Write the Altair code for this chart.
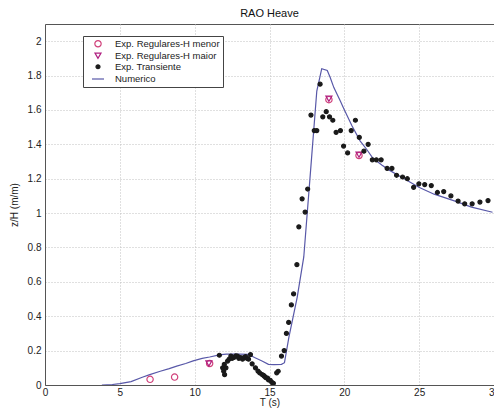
import altair as alt
import pandas as pd

# Numerico (line)
num_T = [3.8, 4.5, 5.0, 5.75, 6.5, 7.0, 7.7, 8.3, 8.8, 9.4, 9.9, 10.5, 11.0, 11.65, 12.1, 13.0, 13.6,
         14.0, 14.5, 14.93, 15.3, 15.8, 16.0, 16.3, 16.85, 17.29, 17.81, 18.16, 18.49, 18.86, 19.05,
         19.3, 19.74, 19.95, 20.5, 21.05, 21.5, 21.9, 22.5, 23.0, 24.0, 24.98, 26.0, 27.4, 28.5, 29.9]
num_y = [0.0, 0.003, 0.008, 0.02, 0.045, 0.06, 0.08, 0.095, 0.11, 0.125, 0.14, 0.155, 0.163, 0.175,
         0.18, 0.18, 0.178, 0.16, 0.14, 0.12, 0.118, 0.12, 0.13, 0.28, 0.51, 0.745, 1.32, 1.71, 1.84,
         1.83, 1.79, 1.73, 1.65, 1.61, 1.51, 1.42, 1.37, 1.32, 1.28, 1.25, 1.2, 1.15, 1.11, 1.07,
         1.035, 1.005]

# Exp. Regulares-H menor (open circles)
menor_T = [7.02, 8.66, 11.0, 18.97, 20.98]
menor_y = [0.033, 0.046, 0.125, 1.66, 1.335]

# Exp. Regulares-H maior (down triangles)
maior_T = [10.95, 18.97, 20.98]
maior_y = [0.125, 1.665, 1.34]

# Exp. Transiente
tr_T = [11.65, 11.87, 11.94, 11.98, 12.0, 12.09, 12.2, 12.3, 12.42, 12.5, 12.63, 12.75, 12.86, 12.95,
        13.07, 13.2, 13.29, 13.4, 13.5, 13.6, 13.73, 13.84, 14.06, 14.23, 14.35, 14.5, 14.6, 14.67,
        14.75, 14.87, 14.93, 15.05, 15.16, 15.26, 15.48, 15.58, 15.8, 15.98, 16.13, 16.28, 16.46,
        16.61, 16.83, 16.96, 17.18, 17.38, 17.55, 17.77, 17.99, 18.16, 18.38, 18.56, 18.79, 19.01,
        19.23, 19.45, 19.74, 19.95, 20.22, 20.46, 20.74, 21.0, 21.31, 21.59, 21.87, 22.14, 22.46,
        22.86, 23.18, 23.49, 23.89, 24.21, 24.63, 24.98, 25.37, 25.81, 26.22, 26.64, 27.12, 27.6,
        28.04, 28.54, 29.06, 29.6]
tr_y = [0.173, 0.10, 0.08, 0.12, 0.06, 0.10, 0.139, 0.15, 0.168, 0.155, 0.16, 0.17, 0.168, 0.155,
        0.16, 0.15, 0.16, 0.165, 0.155, 0.15, 0.177, 0.123, 0.10, 0.081, 0.07, 0.061, 0.056, 0.05,
        0.043, 0.04, 0.03, 0.027, 0.015, 0.01, 0.071, 0.08, 0.168, 0.2, 0.30, 0.364, 0.466,
        0.53, 0.70, 0.92, 1.083, 1.006, 1.14, 1.57, 1.48, 1.48, 1.75, 1.56, 1.59, 1.56,
        1.54, 1.47, 1.48, 1.39, 1.35, 1.48, 1.54, 1.44, 1.36, 1.40, 1.31, 1.31, 1.31,
        1.26, 1.26, 1.22, 1.21, 1.20, 1.15, 1.17, 1.166, 1.16, 1.12, 1.125, 1.10, 1.07,
        1.054, 1.054, 1.064, 1.073]

series = ["Exp. Regulares-H menor", "Exp. Regulares-H maior", "Exp. Transiente", "Numerico"]
colors = ["#d0407a", "#b02080", "#1a1a1a", "#5858a8"]
fills = ["transparent", "transparent", "#1a1a1a", "transparent"]
shapes = ["circle", "triangle-down", "circle", "stroke"]
sizes = [40, 36, 16, 144]

pts = pd.concat([
    pd.DataFrame({"T": menor_T, "y": menor_y, "s": series[0]}),
    pd.DataFrame({"T": maior_T, "y": maior_y, "s": series[1]}),
    pd.DataFrame({"T": tr_T, "y": tr_y, "s": series[2]}),
], ignore_index=True)
line_df = pd.DataFrame({"T": num_T, "y": num_y})

FONT = "Liberation Sans"
xs = alt.Scale(domain=[0, 30], nice=False)
ys = alt.Scale(domain=[0, 2.1], nice=False)
xax = alt.Axis(values=list(range(0, 31, 5)), title="T (s)", ticks=False, labelPadding=2,
               titlePadding=0, format="~g", labelFlush=False)
yax = alt.Axis(values=[round(0.2 * i, 1) for i in range(11)], title="z/H (m/m)", ticks=False,
               labelPadding=4, titlePadding=8, format="~g")

line = alt.Chart(line_df).mark_line(color="#5858a8", strokeWidth=1.2, clip=True).encode(
    x=alt.X("T:Q", scale=xs, axis=xax),
    y=alt.Y("y:Q", scale=ys, axis=yax),
)

leg = alt.Legend(title=None, orient="none", legendX=38, legendY=12, fillColor="white",
                 strokeColor="#444", padding=3, labelFont=FONT, labelFontSize=9.5,
                 labelColor="#222", rowPadding=0, symbolStrokeWidth=1.2, labelOffset=10,
                 symbolOffset=5)

points = alt.Chart(pts).mark_point(strokeWidth=1.2, opacity=1, clip=True).encode(
    x=alt.X("T:Q", scale=xs, axis=xax),
    y=alt.Y("y:Q", scale=ys, axis=yax),
    color=alt.Color("s:N", scale=alt.Scale(domain=series, range=colors), legend=leg),
    fill=alt.Fill("s:N", scale=alt.Scale(domain=series, range=fills), legend=leg),
    shape=alt.Shape("s:N", scale=alt.Scale(domain=series, range=shapes), legend=leg),
    size=alt.Size("s:N", scale=alt.Scale(type="ordinal", domain=series, range=sizes), legend=leg),
)

chart = alt.layer(line, points).properties(
    width=449, height=361,
    title=alt.Title("RAO Heave", font=FONT, fontSize=11, fontWeight="normal", color="#111", offset=5),
    autosize=alt.AutoSizeParams(type="none"),
    padding={"left": 37, "top": 16, "right": 0, "bottom": 23},
).configure_view(stroke="#555", strokeWidth=1).configure_axis(
    labelFont=FONT, labelFontSize=10, labelColor="#222", titleFont=FONT, titleFontSize=10,
    titleFontWeight="normal", titleColor="#222", domainColor="#555", gridColor="#c0c0c0",
    gridDash=[1, 2], gridWidth=1,
)

chart.save("out.html", embed_options={"renderer": "svg", "actions": False})
